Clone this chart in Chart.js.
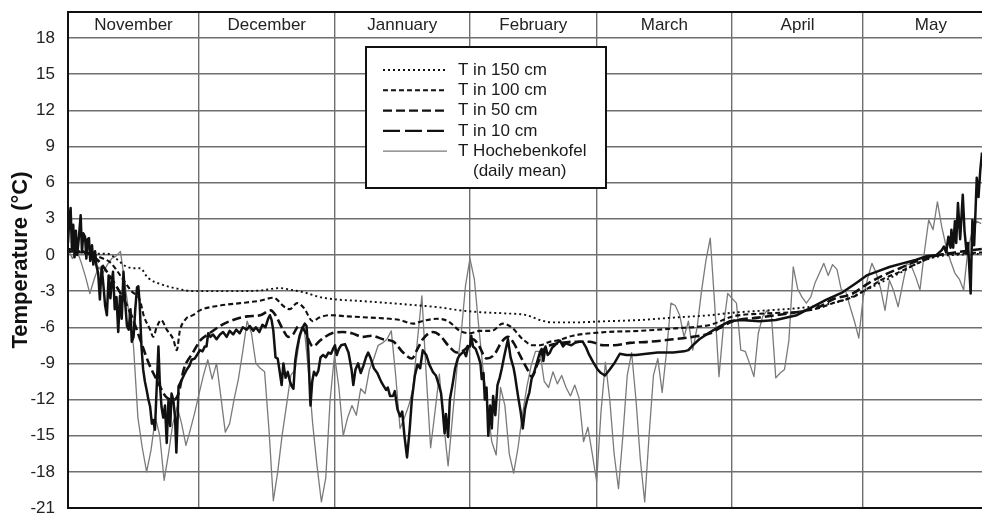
<!DOCTYPE html>
<html>
<head>
<meta charset="utf-8">
<style>
  html, body { margin: 0; padding: 0; background: #ffffff; }
  canvas { display: block; }
</style>
<script src="https://cdn.jsdelivr.net/npm/chart.js"></script>
</head>
<body>
<canvas id="soil" width="982" height="516"></canvas>
<script>
// Winter soil temperatures at four depths and the daily mean air temperature
// at Hochebenkofel. The x values are days counted from 1 November.

const monthNames = ['November', 'December', 'Jannuary', 'February', 'March', 'April', 'May'];
const monthStarts = [0, 30, 61, 92, 121, 152, 182, 213];   // day of the 1st of each month
const yTicks = [-21, -18, -15, -12, -9, -6, -3, 0, 3, 6, 9, 12, 15, 18];

const seriesNames = [
  ['T in 150 cm'],
  ['T in 100 cm'],
  ['T in 50 cm'],
  ['T in 10 cm'],
  ['T Hochebenkofel', '(daily mean)']
];

// T in 150 cm
const days150 = [0, 3, 6, 9, 11, 13, 15, 16.5, 18.3, 21, 25, 28.6, 34, 40, 44, 48.5, 51, 54, 57.7, 61.5,
  66, 73.7, 80.5, 85, 89.7, 94.3, 100, 105, 108, 111, 115.6, 123.2, 130.9, 138.5, 147, 152, 160, 167.5,
  175, 178, 181, 186, 190.4, 195, 199.5, 203, 209.2];
const temp150 = [0.3, 0.3, 0.1, 0.1, -0.3, -0.9, -1.1, -1.1, -1.9, -2.4, -2.8, -3.0, -3.0, -3.0, -2.95, -2.75,
  -2.9, -3.1, -3.5, -3.7, -3.8, -4.0, -4.2, -4.35, -4.6, -4.75, -4.85, -5.0, -5.4, -5.6, -5.6, -5.5, -5.4,
  -5.2, -5.0, -4.8, -4.6, -4.4, -4.0, -3.7, -3.2, -2.3, -1.5, -0.6, -0.1, 0.0, 0.1];

// T in 100 cm
const days100 = [0, 3, 5.8, 8, 9.6, 11, 12.7, 14.5, 16.5, 17.3, 18.8, 19.5, 20.3, 21.3, 22.6, 24.1, 24.9,
  25.6, 27, 28.6, 30.2, 34.8, 39.4, 43.9, 47, 49.5, 50.8, 52.4, 54, 56, 57.5, 60, 64, 69.1, 73.7, 76, 79,
  81, 84.4, 87, 89.7, 92, 94.3, 97, 99.5, 101.5, 104.1, 106.5, 108, 110.3, 112, 115.6, 123.2, 130.9, 138.5,
  147, 152.2, 160, 167.5, 172, 175, 179.6, 183, 186, 190.4, 195, 199.5, 203, 209.2];
const temp100 = [0.3, 0.2, 0.0, -0.3, -0.6, -1.2, -2.1, -3.0, -3.8, -5.0, -6.2, -6.8, -6.0, -5.4, -6.2, -7.0,
  -7.9, -6.3, -5.3, -5.0, -4.6, -4.2, -4.0, -3.8, -3.55, -4.3, -4.5, -4.0, -4.4, -5.5, -5.2, -5.0, -5.1,
  -5.2, -5.3, -5.4, -5.7, -5.5, -5.3, -5.5, -6.3, -6.5, -6.3, -6.3, -5.7, -6.0, -7.0, -7.5, -7.5, -7.2,
  -7.1, -6.7, -6.4, -6.3, -6.1, -5.8, -5.1, -4.85, -4.7, -4.4, -4.0, -3.5, -2.8, -2.1, -1.4, -0.6, 0.0,
  0.1, 0.2];

// T in 50 cm
const days50 = [0, 4, 7, 10, 12.5, 14.5, 16.5, 18.5, 20.5, 22.5, 24.3, 25.3, 26.5, 28.6, 30.5, 32, 34.8, 37,
  41, 44, 46.4, 47.5, 49.2, 50.4, 51.5, 52.8, 54, 56.1, 57.7, 60.4, 62.9, 65, 67.5, 69.5, 72.1, 74.5, 76.7,
  78.7, 80, 81.2, 83.5, 85.2, 87, 89, 91, 92.7, 94, 95.8, 97.5, 99.3, 100.7, 102, 103.4, 105, 106.2, 107.5,
  109, 110.3, 113, 116, 119.5, 122.5, 125, 128.6, 133.2, 138.5, 143, 147, 149, 152.2, 158, 167.5, 172,
  175, 179.6, 183, 186, 190.4, 195, 199.5, 203, 209.2];
const temp50 = [0.5, 0.2, -0.5, -2.0, -3.5, -5.0, -7.0, -9.0, -10.5, -11.8, -12.0, -11.5, -9.5, -8.1, -7.0,
  -6.6, -5.9, -5.5, -5.1, -5.0, -4.6, -5.0, -6.2, -6.8, -6.6, -5.9, -6.2, -7.6, -7.1, -6.5, -6.4, -6.5,
  -6.8, -6.7, -7.0, -7.2, -8.1, -8.6, -7.8, -7.0, -6.4, -6.7, -7.5, -8.1, -7.8, -7.0, -7.5, -8.6, -8.3,
  -7.2, -6.8, -7.3, -8.3, -9.4, -10.1, -9.0, -7.8, -7.5, -7.3, -7.2, -7.2, -7.5, -7.5, -7.3, -7.2, -7.0,
  -6.8, -6.5, -6.1, -5.5, -5.2, -4.7, -4.3, -3.7, -3.2, -2.4, -1.8, -1.1, -0.4, 0.0, 0.2, 0.5];

// T in 10 cm
const days10 = [0.0, 0.3, 0.6, 0.9, 1.2, 1.5, 1.8, 2.1, 2.5, 2.9, 3.2, 3.5, 3.9, 4.2, 4.5, 4.8, 5.1, 5.5, 5.8,
  6.2, 6.5, 6.9, 7.3, 7.7, 8.1, 8.5, 8.9, 9.3, 9.7, 10.0, 10.3, 10.7, 11.1, 11.5, 11.9, 12.3, 12.7, 13.1,
  13.5, 13.9, 14.3, 14.6, 15.0, 15.4, 15.8, 16.1, 16.4, 16.8, 17.2, 17.6, 18.0, 18.4, 18.8, 19.2, 19.5,
  19.9, 20.3, 20.7, 21.0, 21.4, 21.8, 22.2, 22.6, 23.0, 23.4, 23.7, 24.1, 24.5, 24.8, 25.1, 25.3, 26.0,
  26.5, 27.2, 27.8, 28.3, 29.0, 29.7, 30.2, 30.8, 31.3, 31.7, 32.1, 32.6, 33.2, 34.0, 34.8, 35.5, 36.3,
  37.0, 37.8, 38.5, 39.3, 40.0, 40.9, 41.6, 42.4, 43.0, 43.8, 44.5, 45.2, 45.8, 46.2, 46.6, 47.0, 47.5,
  48.0, 48.5, 48.9, 49.3, 49.8, 50.3, 50.8, 51.2, 51.6, 52.0, 52.4, 53.0, 53.6, 54.2, 54.6, 55.0, 55.5,
  55.9, 56.3, 56.8, 57.3, 57.8, 58.4, 59.0, 59.6, 60.2, 60.8, 61.1, 61.5, 62.0, 62.5, 63.4, 64.2, 64.9,
  65.3, 65.8, 66.4, 67.0, 67.6, 68.2, 68.7, 69.3, 70.0, 70.8, 71.4, 71.8, 72.3, 72.8, 73.2, 73.7, 74.4,
  74.8, 75.4, 76.0, 76.5, 77.0, 77.6, 78.2, 78.7, 79.4, 80.0, 80.6, 81.2, 82.0, 82.7, 83.5, 84.2, 84.9,
  85.4, 85.8, 86.2, 86.5, 87.0, 87.4, 88.0, 88.6, 89.2, 89.7, 90.6, 91.1, 91.6, 92.0, 92.3, 92.7, 93.3,
  93.9, 94.4, 94.7, 95.1, 95.4, 95.8, 96.2, 96.6, 97.0, 97.3, 97.8, 98.3, 98.8, 99.3, 99.9, 100.7, 101.3,
  102.0, 102.3, 103.0, 103.6, 104.1, 104.6, 105.1, 105.6, 106.1, 106.8, 107.6, 108.0, 108.4, 108.8,
  109.3, 109.8, 110.3, 110.8, 111.4, 112.0, 112.6, 113.3, 114.0, 114.4, 115.2, 116.0, 117.0, 117.8,
  118.6, 119.3, 120.2, 121.2, 122.0, 122.9, 124.0, 125.2, 126.3, 127.8, 130.0, 132.4, 135.0, 138.5,
  141.0, 142.0, 143.0, 144.5, 147.0, 149.3, 151.5, 154.0, 158.3, 162.0, 166.8, 170.0, 173.6, 177.3,
  180.5, 182.8, 185.0, 188.0, 191.0, 194.2, 196.5, 198.8, 200.0, 200.5, 201.0, 201.5, 202.0, 202.2,
  202.6, 203.0, 203.3, 203.7, 204.2, 204.8, 205.2, 205.7, 206.0, 206.6, 207.0, 207.4, 207.7, 208.0,
  208.4, 208.8, 209.2];
const temp10 = [1.0, 3.0, 3.9, 0.5, 2.5, -0.2, 2.0, 0.0, 1.5, 3.3, 0.2, 1.8, 1.5, -0.3, 1.3, 1.4, -0.5, 0.8,
  -0.8, 0.3, -0.9, -1.5, -3.7, -1.0, -2.5, -4.2, -5.0, -1.7, -3.6, -2.3, -1.4, -4.5, -3.5, -6.4, -3.4,
  -5.3, -1.4, -4.0, -5.9, -6.2, -4.5, -7.2, -6.8, -4.5, -2.7, -2.6, -4.0, -7.5, -9.5, -10.5, -11.2,
  -12.0, -12.6, -14.0, -13.7, -14.5, -11.0, -7.6, -10.5, -12.6, -13.5, -12.5, -15.6, -12.0, -14.2,
  -11.5, -12.0, -13.5, -16.4, -13.5, -10.9, -10.4, -10.0, -9.5, -9.2, -8.7, -8.6, -8.2, -7.9, -8.0,
  -7.6, -7.6, -6.5, -6.8, -6.6, -7.0, -6.6, -6.4, -6.8, -6.3, -6.6, -6.2, -6.5, -6.0, -6.2, -5.9, -6.3,
  -6.0, -6.4, -5.8, -6.0, -5.3, -5.0, -5.4, -6.3, -8.5, -8.6, -9.8, -10.8, -9.0, -10.2, -9.7, -10.5,
  -10.9, -11.1, -8.8, -7.8, -6.7, -6.1, -5.7, -5.9, -8.0, -12.5, -10.5, -9.7, -10.0, -9.6, -8.5, -8.3,
  -8.5, -8.1, -8.2, -7.7, -7.5, -8.3, -7.8, -7.5, -7.4, -8.1, -9.5, -10.8, -9.5, -9.0, -9.8, -9.2, -8.5,
  -8.1, -8.6, -9.4, -9.8, -10.3, -10.6, -10.9, -11.2, -11.0, -11.7, -11.7, -11.3, -12.8, -13.4, -13.0,
  -15.0, -16.8, -14.5, -12.0, -10.0, -9.1, -9.4, -7.9, -8.3, -9.1, -9.7, -10.0, -10.8, -11.5, -13.0,
  -14.8, -13.2, -15.1, -12.0, -10.8, -9.4, -8.6, -8.3, -8.0, -8.4, -7.6, -7.6, -6.7, -7.6, -7.8, -8.4,
  -9.0, -10.3, -9.8, -12.0, -11.0, -15.0, -12.5, -14.4, -11.7, -13.3, -10.8, -10.2, -9.4, -8.3, -7.0,
  -8.5, -9.4, -10.0, -11.7, -13.0, -14.4, -12.8, -12.0, -11.4, -10.3, -9.6, -8.6, -8.1, -7.8, -8.8,
  -7.6, -8.3, -8.1, -7.7, -7.5, -7.3, -7.1, -7.6, -7.3, -7.4, -7.5, -7.3, -7.2, -7.2, -7.7, -8.3, -8.9,
  -9.5, -9.8, -10.0, -9.5, -8.9, -8.2, -8.3, -8.3, -8.2, -8.1, -8.1, -8.0, -7.9, -7.5, -7.0, -6.4, -5.9,
  -5.5, -5.4, -5.5, -5.4, -5.0, -4.4, -3.7, -3.1, -2.3, -1.7, -1.4, -1.0, -0.7, -0.4, -0.1, 0.0, 0.4,
  0.7, 0.2, 1.5, 0.6, 2.1, 0.6, 2.8, 1.0, 4.3, 1.3, 5.0, 2.0, 0.1, 1.0, -3.2, 2.9, 0.8, 3.5, 6.4, 4.8,
  7.0, 8.5];

// T Hochebenkofel, daily mean, one value per day from 1 November
const airTemp = [0.5, -0.3, 0.4, -0.6, -1.8, -3.2, -2.0, -1.0, -1.5, -0.8, -0.3, -0.1, 0.3, -2.3, -5.0,
  -7.6, -13.5, -16.0, -18.0, -16.2, -13.5, -15.0, -18.7, -16.5, -14.0, -12.6, -14.0, -15.8, -14.5, -13.1,
  -11.5, -10.0, -8.7, -10.3, -9.0, -11.8, -14.7, -14.0, -12.0, -10.3, -8.0, -5.5, -6.5, -9.0, -9.4, -9.7,
  -14.5, -20.4, -18.0, -15.0, -12.5, -10.0, -9.5, -7.0, -5.8, -9.5, -14.0, -17.5, -20.5, -18.5, -12.0,
  -8.3, -11.0, -15.0, -13.5, -12.5, -13.3, -11.1, -11.5, -9.5, -8.6, -7.5, -7.3, -7.0, -6.3, -10.0,
  -14.4, -13.5, -12.5, -11.0, -7.0, -3.4, -10.0, -16.0, -13.0, -9.9, -14.0, -17.5, -13.5, -9.5, -6.5,
  -2.5, -0.3, -2.0, -5.9, -9.5, -12.5, -15.5, -16.6, -11.0, -12.5, -16.5, -18.1, -16.0, -13.3, -11.0,
  -9.2, -8.0, -8.0, -10.5, -11.0, -9.7, -10.7, -10.0, -11.0, -11.7, -10.8, -11.9, -15.5, -14.3, -16.5,
  -18.8, -13.0, -8.9, -12.0, -16.5, -19.4, -15.0, -10.0, -8.1, -12.0, -17.0, -20.5, -15.0, -10.0, -8.6,
  -11.4, -8.0, -4.0, -4.2, -5.0, -6.8, -5.5, -7.9, -6.0, -3.0, -0.5, 1.4, -4.0, -10.1, -6.0, -3.2, -3.6,
  -4.0, -7.9, -8.0, -9.0, -10.1, -6.5, -5.1, -4.6, -5.0, -10.2, -9.8, -9.5, -7.1, -1.0, -2.8, -3.5,
  -4.0, -3.5, -2.3, -1.5, -0.7, -1.7, -0.8, -1.2, -2.9, -3.0, -4.3, -5.5, -6.9, -3.5, -2.0, -0.7, -1.5,
  -2.8, -4.6, -2.1, -3.0, -4.3, -2.5, -0.7, -0.9, -1.8, -2.9, 0.2, 2.9, 2.1, 4.4, 2.3, 0.7, -0.5, -1.5,
  -2.0, -2.9, 0.5, 2.0, 2.8, 2.6];

const dayMax = 209.2;
const tempMin = -21;
const tempMax = 20.16;

const toPoints = (days, temps) => temps.map((t, i) => ({ x: days[i], y: t }));
const airPoints = airTemp.map((t, i) => ({ x: i, y: t }));

const FONT = "'Liberation Sans', Arial, sans-serif";
const INK = '#111111';
const GRID = '#6f6f6f';

// keyDash is the dash pattern shown in the key; the 10 cm trace itself is dense
// enough that it is drawn as a continuous line.
const datasets = [
  { label: seriesNames[0].join(' '), data: toPoints(days150, temp150), borderColor: INK,
    borderWidth: 1.9, borderDash: [2, 3], keyDash: [2, 3], tension: 0.35, cubicInterpolationMode: 'monotone' },
  { label: seriesNames[1].join(' '), data: toPoints(days100, temp100), borderColor: INK,
    borderWidth: 2.1, borderDash: [5, 3], keyDash: [5, 3], tension: 0.35, cubicInterpolationMode: 'monotone' },
  { label: seriesNames[2].join(' '), data: toPoints(days50, temp50), borderColor: INK,
    borderWidth: 2.6, borderDash: [9, 4], keyDash: [9, 4], tension: 0.35, cubicInterpolationMode: 'monotone' },
  { label: seriesNames[3].join(' '), data: toPoints(days10, temp10), borderColor: INK,
    borderWidth: 2.5, borderDash: [], keyDash: [17, 5], tension: 0 },
  { label: seriesNames[4].join(' '), data: airPoints, borderColor: '#7a7a7a',
    borderWidth: 1.3, borderDash: [], keyDash: [], tension: 0 }
];
datasets.forEach(d => { d.pointRadius = 0; d.fill = false; d.borderJoinStyle = 'round'; });

// Month names sit in the band above the 18 °C line
const monthLabels = {
  id: 'monthLabels',
  afterDatasetsDraw(chart) {
    const { ctx, scales: { x, y } } = chart;
    const yPix = y.getPixelForValue((18 + tempMax) / 2);
    ctx.save();
    ctx.font = '17px ' + FONT;
    ctx.fillStyle = '#222222';
    ctx.textAlign = 'center';
    ctx.textBaseline = 'middle';
    monthNames.forEach((name, i) => {
      const mid = (monthStarts[i] + monthStarts[i + 1]) / 2;
      ctx.fillText(name, x.getPixelForValue(mid), yPix);
    });
    ctx.restore();
  }
};

// Boxed key drawn inside the plot, using each dataset's colour and width
const boxedKey = {
  id: 'boxedKey',
  afterDraw(chart) {
    const { ctx, chartArea: a } = chart;
    const left = a.left + 298, top = a.top + 35, w = 240, h = 141;
    ctx.save();
    ctx.fillStyle = '#ffffff';
    ctx.fillRect(left, top, w, h);
    ctx.lineWidth = 2;
    ctx.strokeStyle = INK;
    ctx.strokeRect(left, top, w, h);
    ctx.font = '17px ' + FONT;
    ctx.fillStyle = '#1a1a1a';
    ctx.textBaseline = 'middle';
    const rowH = 20.3;
    let rowY = top + 23;
    chart.data.datasets.forEach((ds, i) => {
      ctx.beginPath();
      ctx.setLineDash(ds.keyDash || []);
      ctx.lineWidth = Math.min(ds.borderWidth, 2.3);
      ctx.strokeStyle = ds.borderColor;
      ctx.moveTo(left + 17, rowY);
      ctx.lineTo(left + 81, rowY);
      ctx.stroke();
      ctx.setLineDash([]);
      const lines = seriesNames[i];
      ctx.textAlign = 'left';
      ctx.fillText(lines[0], left + 92, rowY);
      for (let k = 1; k < lines.length; k++) {
        rowY += rowH;
        ctx.fillText(lines[k], left + 107, rowY);
      }
      rowY += rowH;
    });
    ctx.restore();
  }
};

// The plot frame fills the canvas exactly; no extra room around the edge labels
const noEdgePadding = s => {
  s.paddingTop = 0; s.paddingBottom = 0; s.paddingLeft = 0; s.paddingRight = 0;
};

new Chart(document.getElementById('soil'), {
  type: 'line',
  data: { datasets },
  options: {
    responsive: false,
    animation: false,
    events: [],
    layout: { autoPadding: false, padding: { top: 12, bottom: 8, left: 0, right: 0 } },
    plugins: { legend: { display: false }, tooltip: { enabled: false } },
    scales: {
      x: {
        type: 'linear', min: 0, max: dayMax,
        afterBuildTicks: s => { s.ticks = monthStarts.filter(d => d <= dayMax).map(v => ({ value: v })); },
        afterFit: s => { s.height = 0; noEdgePadding(s); },
        ticks: { display: false },
        grid: { color: GRID, lineWidth: 1.4, drawTicks: false },
        border: { display: false }
      },
      xTop: {
        type: 'linear', position: 'top', min: 0, max: dayMax,
        afterFit: s => { s.height = 0; noEdgePadding(s); },
        ticks: { display: false },
        grid: { display: false, drawTicks: false },
        border: { display: true, color: INK, width: 2 }
      },
      y: {
        min: tempMin, max: tempMax,
        afterBuildTicks: s => { s.ticks = yTicks.map(v => ({ value: v })); },
        afterFit: s => { s.width = 68; noEdgePadding(s); },
        ticks: { font: { family: FONT, size: 17 }, color: '#222222', padding: 13 },
        grid: {
          drawTicks: false,
          color: c => (c.tick && c.tick.value === tempMin ? INK : GRID),
          lineWidth: c => (c.tick && c.tick.value === tempMin ? 2 : 1.4)
        },
        border: { display: true, color: INK, width: 2 },
        title: {
          display: true, text: 'Temperature (°C)', color: '#111111',
          font: { family: FONT, size: 22, weight: 'bold' },
          padding: { top: 8, bottom: 0 }
        }
      }
    }
  },
  plugins: [monthLabels, boxedKey]
});
</script>
</body>
</html>
